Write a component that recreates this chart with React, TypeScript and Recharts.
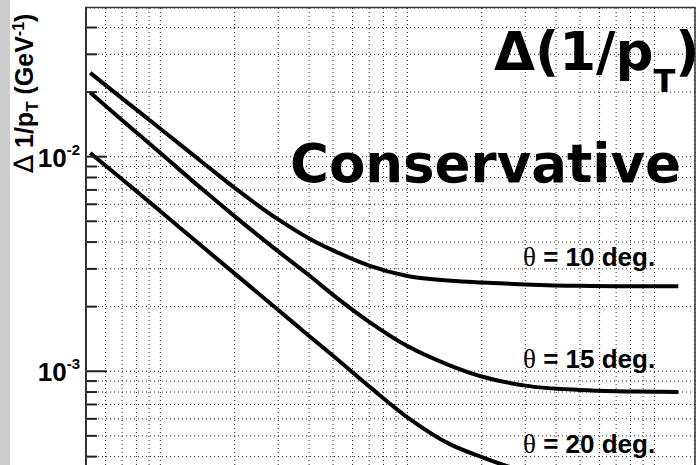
import { LineChart, Line, XAxis, YAxis, CartesianGrid } from 'recharts';

const pt = [0.52, 0.7, 1, 1.5, 2, 3, 4, 5, 7, 10, 15, 20, 30, 50, 70, 100, 125];

// Delta(1/pT) in GeV^-1 for each polar angle
const theta10 = [0.0246, 0.0187, 0.0135, 0.0093, 0.00715, 0.0051, 0.00416, 0.00366, 0.00311, 0.00278, 0.00264, 0.00259, 0.00254, 0.0025, 0.00249, 0.00249, 0.00249];
const theta15 = [0.0199, 0.0148, 0.0104, 0.00695, 0.00527, 0.00362, 0.0028, 0.00227, 0.0017, 0.00131, 0.00106, 0.000945, 0.000857, 0.000818, 0.000807, 0.000803, 0.0008];
const theta20 = [0.0104, 0.00785, 0.00557, 0.00376, 0.00285, 0.00193, 0.00146, 0.00118, 0.00085, 0.00061, 0.000455, 0.000398, 0.00034, 0.0003, 0.00029, 0.000285, 0.000283];

// grid / tick positions
const xGrid = [0.5, 0.6, 0.7, 0.8, 0.9, 1, 2, 3, 4, 5, 6, 7, 8, 9, 10, 20, 30, 40, 50, 60, 70, 80, 90, 100];
const yGrid = [0.0003, 0.0004, 0.0005, 0.0006, 0.0007, 0.0008, 0.0009, 0.001, 0.002, 0.003, 0.004, 0.005, 0.006, 0.007, 0.008, 0.009, 0.01, 0.02, 0.03, 0.04];
const yMajor = [0.001, 0.01];
const yExp = ['-3', '-2'];

const curveLabels = ['= 10 deg.', '= 15 deg.', '= 20 deg.'];

const data = pt.map((p, i) => ({ pt: p, t10: theta10[i], t15: theta15[i], t20: theta20[i] }));

const PLOT_LEFT = 86;

function YTick(props: any) {
  const { y, payload } = props;
  const idx = yMajor.indexOf(payload.value);
  const major = idx >= 0;
  return (
    <g>
      <line x1={PLOT_LEFT} x2={PLOT_LEFT + (major ? 21 : 11)} y1={y} y2={y} stroke="#222" strokeWidth={2} />
      {major && (
        <text x={80} y={y + 10} textAnchor="end" fontFamily="'Liberation Sans', Arial, sans-serif" fontWeight="bold" fontSize={26} fill="#000">
          10<tspan dy={-12} fontSize={15}>{yExp[idx]}</tspan>
        </text>
      )}
    </g>
  );
}

function NoTick() {
  return <g />;
}

export default function App() {
  const sans = "'Liberation Sans', Arial, sans-serif";
  const dejavu = "'DejaVu Sans', sans-serif";
  return (
    <div style={{ position: 'absolute', left: 0, top: 0, width: 696, height: 465, overflow: 'hidden', background: '#fff' }}>
      <LineChart width={696} height={510} data={data} margin={{ top: 8, right: 1, left: 0, bottom: 0 }}>
        <CartesianGrid stroke="#222" strokeDasharray="1 3" strokeWidth={1} />
        <XAxis
          dataKey="pt"
          type="number"
          scale="log"
          domain={[0.5, 146]}
          allowDataOverflow
          ticks={xGrid}
          interval={0}
          height={1}
          tick={<NoTick />}
          tickLine={false}
          axisLine={false}
        />
        <YAxis
          type="number"
          scale="log"
          domain={[0.000228, 0.04932]}
          allowDataOverflow
          ticks={yGrid}
          width={PLOT_LEFT}
          tick={<YTick />}
          tickLine={false}
          axisLine={false}
          interval={0}
        />
        <Line dataKey="t10" type="monotone" stroke="#000" strokeWidth={4} dot={false} isAnimationActive={false} />
        <Line dataKey="t15" type="monotone" stroke="#000" strokeWidth={4} dot={false} isAnimationActive={false} />
        <Line dataKey="t20" type="monotone" stroke="#000" strokeWidth={4} dot={false} isAnimationActive={false} />
      </LineChart>
      <svg width={696} height={465} style={{ position: 'absolute', left: 0, top: 0, pointerEvents: 'none' }}>
        <rect x={0} y={0} width={10} height={465} fill="#cccccc" />
        <rect x={PLOT_LEFT} y={7.5} width={609} height={520} fill="none" stroke="#333" strokeWidth={1.5} />
        <line x1={PLOT_LEFT} x2={PLOT_LEFT} y1={7} y2={465} stroke="#333" strokeWidth={2} />
        <text transform="translate(33,173) rotate(-90)" fontFamily={sans} fontWeight="bold" fontSize={25} fill="#000">
          <tspan fontWeight="normal" fontFamily="'DejaVu Sans', sans-serif" fontSize={27}>∆</tspan> 1/p<tspan dy={5} fontSize={17}>T</tspan>
          <tspan dy={-5}> (GeV</tspan><tspan dy={-9} fontSize={16}>-1</tspan><tspan dy={9}>)</tspan>
        </text>
        <text x={494} y={70} fontFamily={dejavu} fontWeight="bold" fontSize={53} fill="#000">
          Δ(1/p<tspan dy={22} fontSize={32}>T</tspan><tspan dy={-22}>)</tspan>
        </text>
        <text x={290} y={182} fontFamily={dejavu} fontWeight="bold" fontSize={53} fill="#000">Conservative</text>
        {curveLabels.map((t, i) => (
          <text key={t} x={523} y={[266, 368, 453][i]} fontFamily={sans} fontWeight="bold" fontSize={26} fill="#000">
            <tspan fontFamily="'Liberation Serif', serif" fontWeight="normal" fontSize={27}>θ</tspan> {t}
          </text>
        ))}
      </svg>
    </div>
  );
}
